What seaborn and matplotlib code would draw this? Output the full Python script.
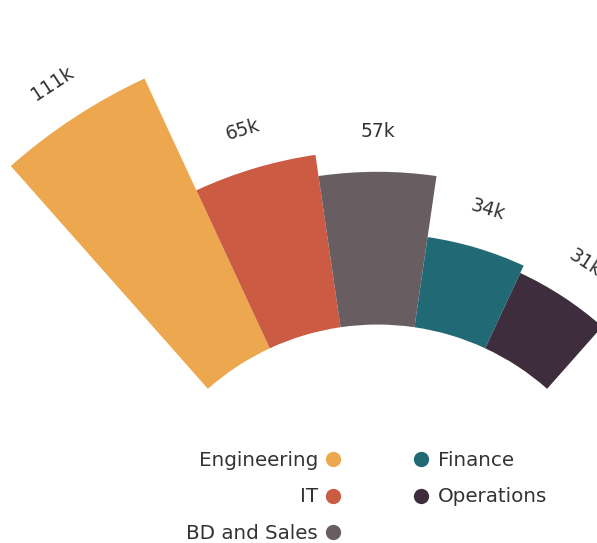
import numpy as np
import matplotlib
matplotlib.use("Agg")
import matplotlib.pyplot as plt
from matplotlib.lines import Line2D
import seaborn as sns

departments = ["Engineering", "IT", "BD and Sales", "Finance", "Operations"]
salaries = [111, 65, 57, 34, 31]  # thousands
labels = ["111k", "65k", "57k", "34k", "31k"]
colors = ["#EDA84F", "#CB5B42", "#685E62", "#216A75", "#3E2D3C"]

sns.set_theme(style="white")
plt.rcParams["font.family"] = ["DejaVu Sans"]
palette = sns.color_palette(colors)
text_color = "#333333"

W, H = 597, 543
fig = plt.figure(figsize=(W / 100, H / 100), dpi=100)

# polar axes whose centre sits below the figure
cx, cy = 377.5, H - 580.5       # centre in pixels from bottom-left
rmax = 220.0                    # data units
px_per_unit = 2.68
R = rmax * px_per_unit
ax = fig.add_axes([(cx - R) / W, (cy - R) / H, 2 * R / W, 2 * R / H],
                  projection="polar")
ax.set_theta_zero_location("N")
ax.set_theta_direction(-1)
ax.set_ylim(0, rmax)
ax.set_axis_off()

inner = 95.5
step = 16.6
angles = np.deg2rad((np.arange(len(salaries)) - 2) * step)
width = np.deg2rad(step)

ax.bar(angles, salaries, width=width, bottom=inner, color=palette,
       edgecolor="none", linewidth=0)

for a, v, lab in zip(angles, salaries, labels):
    ax.text(a, inner + v + 15, lab, rotation=-np.rad2deg(a),
            rotation_mode="anchor", ha="center", va="center",
            fontsize=13.5, color=text_color)

def handle(c):
    return Line2D([], [], marker="o", linestyle="none", markersize=11,
                  markerfacecolor=c, markeredgecolor="none")

legend_kw = dict(frameon=False, fontsize=14.3, handlelength=0.9,
                 labelspacing=0.88, borderpad=0, borderaxespad=0,
                 labelcolor=text_color)
left = fig.legend([handle(c) for c in palette[:3]], departments[:3],
                  loc="upper right", bbox_to_anchor=(342 / W, 1 - 451 / H),
                  markerfirst=False, handletextpad=0.3, **legend_kw)
right = fig.legend([handle(c) for c in palette[3:]], departments[3:],
                   loc="upper left", bbox_to_anchor=(412 / W, 1 - 451 / H),
                   markerfirst=True, handletextpad=0.4, **legend_kw)

fig.savefig("out.png", dpi=100)
